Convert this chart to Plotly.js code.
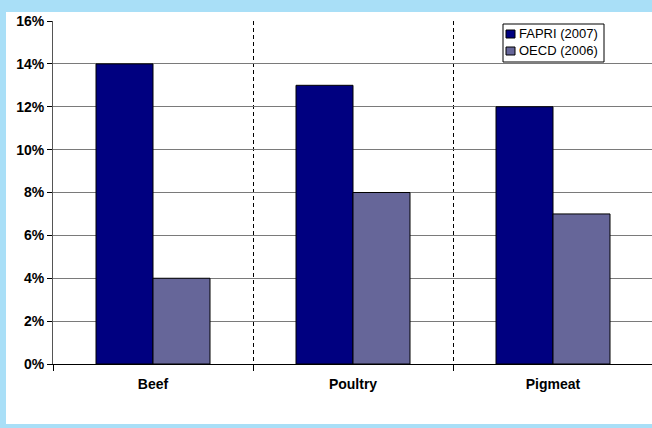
<!DOCTYPE html>
<html>
<head>
<meta charset="utf-8">
<script src="https://cdn.plot.ly/plotly-3.0.1.min.js"></script>
<style>
  html, body { margin: 0; padding: 0; background: #a9dff7; width: 652px; height: 428px; overflow: hidden; }
  #panel { position: absolute; left: 6px; top: 12px; width: 646px; height: 412px; background: #ffffff; }
  #chart { position: absolute; left: 0; top: 0; width: 652px; height: 428px; }
</style>
</head>
<body>
<div id="panel"></div>
<div id="chart"></div>
<script>
// Meat categories and projected growth shares (%) from two sources
const categories = ["Beef", "Poultry", "Pigmeat"];
const fapri2007 = [14, 13, 12];
const oecd2006 = [4, 8, 7];
const seriesNames = ["FAPRI (2007)", "OECD (2006)"];
const seriesColors = ["#000080", "#666699"];

const family = "Liberation Sans, Arial, sans-serif";

// Plot area geometry in pixels, used to place the boxed legend
const W = 652, H = 428;
const M = { l: 53, r: 0, t: 21, b: 64 };
const plotW = W - M.l - M.r, plotH = H - M.t - M.b;
const px = v => (v - M.l) / plotW;
const py = v => (H - M.b - v) / plotH;

const traces = [fapri2007, oecd2006].map((vals, i) => ({
  type: "bar", name: seriesNames[i], x: categories, y: vals,
  marker: { color: seriesColors[i], line: { color: "#000000", width: 1 } },
  hoverinfo: "skip", showlegend: false
}));

// Boxed legend: frame, colour swatches and labels
const shapes = [{
  type: "rect", xref: "paper", yref: "paper",
  x0: px(503), x1: px(604), y0: py(62), y1: py(24),
  fillcolor: "#ffffff", line: { color: "#000000", width: 1 }, layer: "above"
}];
const annotations = [];
seriesNames.forEach((name, i) => {
  const cy = 34 + i * 17;
  shapes.push({
    type: "rect", xref: "paper", yref: "paper",
    x0: px(506), x1: px(515), y0: py(cy + 4), y1: py(cy - 4),
    fillcolor: seriesColors[i], line: { color: "#000000", width: 1 }, layer: "above"
  });
  annotations.push({
    xref: "paper", yref: "paper", x: px(517), y: py(cy),
    xanchor: "left", yanchor: "middle", showarrow: false,
    text: name, font: { family: family, size: 13, color: "#000000" }
  });
});

const layout = {
  width: W, height: H,
  margin: M,
  paper_bgcolor: "rgba(0,0,0,0)",
  plot_bgcolor: "rgba(0,0,0,0)",
  font: { family: family, size: 12, color: "#000000" },
  barmode: "group",
  bargap: 0.43,
  bargroupgap: 0,
  showlegend: false,
  shapes: shapes,
  annotations: annotations,
  xaxis: {
    type: "category",
    range: [-0.5, 2.495],
    tickson: "boundaries",
    ticks: "outside", ticklen: 6, tickcolor: "#000000",
    ticklabelstandoff: 7,
    showgrid: true, gridcolor: "#000000", griddash: "4px,3px", gridwidth: 1,
    showline: true, linecolor: "#000000", linewidth: 1,
    tickfont: { family: family, size: 14, color: "#000000", weight: "bold" },
    fixedrange: true
  },
  yaxis: {
    range: [0, 16], dtick: 2, tick0: 0,
    ticksuffix: "%",
    ticks: "outside", ticklen: 5, tickcolor: "#000000",
    showgrid: true, gridcolor: "#7a7a7a", gridwidth: 1,
    showline: true, linecolor: "#555555", linewidth: 1,
    zeroline: false,
    tickfont: { family: family, size: 14, color: "#000000", weight: "bold" },
    fixedrange: true
  }
};

Plotly.newPlot("chart", traces, layout, { displayModeBar: false, staticPlot: true });
</script>
</body>
</html>
